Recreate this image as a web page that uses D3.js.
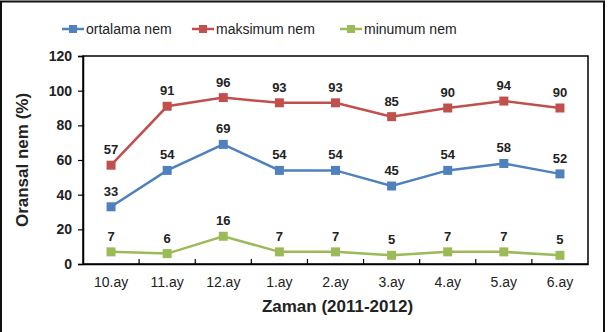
<!DOCTYPE html>
<html>
<head>
<meta charset="utf-8">
<script src="https://cdn.jsdelivr.net/npm/d3@7"></script>
<style>
  body { margin: 0; background: #fff; }
  text { font-family: Arial, "Liberation Sans", sans-serif; }
</style>
</head>
<body>
<div id="chart"></div>
<script>
const months = ["10.ay", "11.ay", "12.ay", "1.ay", "2.ay", "3.ay", "4.ay", "5.ay", "6.ay"];
const ortalama = [33, 54, 69, 54, 54, 45, 54, 58, 52];
const maksimum = [57, 91, 96, 93, 93, 85, 90, 94, 90];
const minumum = [7, 6, 16, 7, 7, 5, 7, 7, 5];
const yTicks = [0, 20, 40, 60, 80, 100, 120];

const seriesNames = ["ortalama nem", "maksimum nem", "minumum nem"];
const seriesColors = ["#4f81bd", "#c0504d", "#9bbb59"];

const W = 612, H = 332;
const margin = { top: 56, right: 24, bottom: 68, left: 83 };
const width = W - margin.left - margin.right;
const height = H - margin.top - margin.bottom;

const root = d3.select("#chart").append("svg")
  .attr("width", W)
  .attr("height", H);

// outer frame (cut off at the bottom)
root.append("rect")
  .attr("x", 1).attr("y", 1.5)
  .attr("width", 603).attr("height", H + 10)
  .attr("fill", "none")
  .attr("stroke", "#111")
  .attr("stroke-width", 2);

const svg = root.append("g")
  .attr("transform", `translate(${margin.left},${margin.top})`);

const x = d3.scaleBand().domain(months).range([0, width]);
const y = d3.scaleLinear().domain([0, 120]).range([height, 0]);

// plot frame
svg.append("rect")
  .attr("width", width).attr("height", height)
  .attr("fill", "none")
  .attr("stroke", "#000")
  .attr("stroke-width", 1.5);

// y axis
const yAxis = svg.append("g")
  .call(d3.axisLeft(y).tickValues(yTicks).tickSize(5).tickPadding(6));
yAxis.select(".domain").attr("stroke", "#000").attr("stroke-width", 1.5);
yAxis.selectAll("line").attr("stroke", "#000").attr("stroke-width", 1.2);
yAxis.selectAll("text")
  .attr("font-size", "14px").attr("font-weight", "bold").attr("fill", "#222");

// x axis
const xAxis = svg.append("g")
  .attr("transform", `translate(0,${height})`)
  .call(d3.axisBottom(x).tickSize(0).tickPadding(13));
xAxis.select(".domain").attr("stroke", "#000").attr("stroke-width", 1.5);
xAxis.selectAll("text")
  .attr("font-size", "14px").attr("fill", "#222");

// x ticks between categories
svg.append("g")
  .selectAll("line")
  .data(months.slice(1))
  .join("line")
  .attr("x1", d => x(d)).attr("x2", d => x(d))
  .attr("y1", height - 5).attr("y2", height)
  .attr("stroke", "#000").attr("stroke-width", 1.2);

// axis titles
svg.append("text")
  .attr("transform", "rotate(-90)")
  .attr("x", -height / 2)
  .attr("y", -55)
  .attr("text-anchor", "middle")
  .attr("font-size", "17px").attr("font-weight", "bold").attr("fill", "#222")
  .text("Oransal nem (%)");

svg.append("text")
  .attr("x", width / 2 + 2)
  .attr("y", height + 48)
  .attr("text-anchor", "middle")
  .attr("font-size", "17px").attr("font-weight", "bold").attr("fill", "#222")
  .text("Zaman (2011-2012)");

// lines
const data = [ortalama, maksimum, minumum].map((vals, i) => ({
  name: seriesNames[i],
  color: seriesColors[i],
  values: vals.map((v, j) => ({ m: months[j], v }))
}));

const line = d3.line()
  .x(d => x(d.m) + x.bandwidth() / 2)
  .y(d => y(d.v));

const series = svg.selectAll(".series")
  .data(data)
  .join("g")
  .attr("class", "series");

series.append("path")
  .attr("fill", "none")
  .attr("stroke", d => d.color)
  .attr("stroke-width", 2.5)
  .attr("d", d => line(d.values));

series.each(function(s) {
  const g = d3.select(this);
  g.selectAll("rect")
    .data(s.values)
    .join("rect")
    .attr("x", d => x(d.m) + x.bandwidth() / 2 - 4.5)
    .attr("y", d => y(d.v) - 4.5)
    .attr("width", 9).attr("height", 9)
    .attr("fill", s.color);
  g.selectAll("text")
    .data(s.values)
    .join("text")
    .attr("x", d => x(d.m) + x.bandwidth() / 2)
    .attr("y", d => y(d.v) - 11)
    .attr("text-anchor", "middle")
    .attr("font-size", "13px").attr("font-weight", "bold").attr("fill", "#222")
    .text(d => d.v);
});

// legend
const legendX = [62, 192, 340];
const legend = root.append("g")
  .selectAll("g")
  .data(data)
  .join("g")
  .attr("transform", (d, i) => `translate(${legendX[i]},29)`);

legend.append("line")
  .attr("x1", 0).attr("x2", 22)
  .attr("stroke", d => d.color).attr("stroke-width", 2.5);
legend.append("rect")
  .attr("x", 7).attr("y", -4).attr("width", 8).attr("height", 8)
  .attr("fill", d => d.color);
legend.append("text")
  .attr("x", 24).attr("y", 5)
  .attr("font-size", "14px").attr("fill", "#222")
  .text(d => d.name);
</script>
</body>
</html>
